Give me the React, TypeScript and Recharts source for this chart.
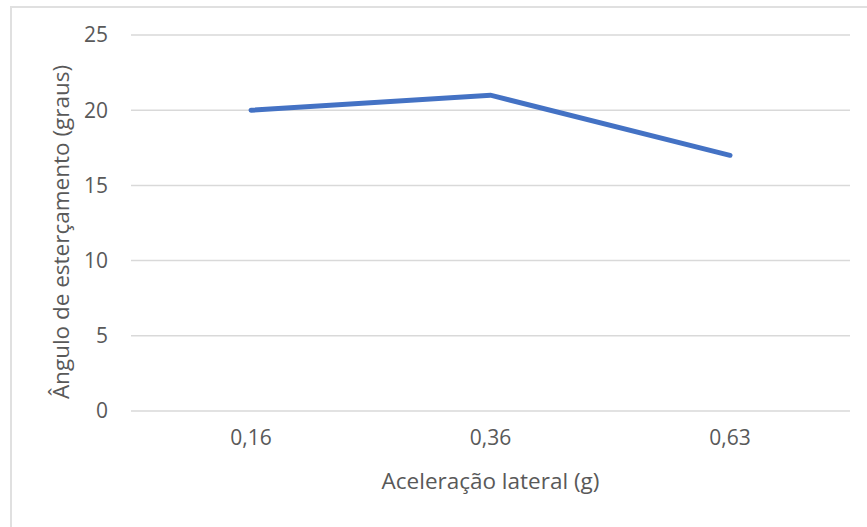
import { CartesianGrid, Label, Line, LineChart, XAxis, YAxis } from 'recharts'

const categories = ['0,16', '0,36', '0,63']
const steerAngle = [20, 21, 17]
const yTicks = [0, 5, 10, 15, 20, 25]

const data = categories.map((c, i) => ({ accel: c, angle: steerAngle[i] }))

const FONT = '"Open Sans", "Noto Sans", sans-serif'
const TEXT = '#595959'
const SIZE = 21

export default function App() {
  return (
    <div
      style={{
        position: 'fixed',
        top: 0,
        left: 0,
        width: 867,
        height: 527,
        overflow: 'hidden',
        background: '#fff',
        fontFamily: FONT,
      }}
    >
      <div
        style={{
          position: 'absolute',
          left: 10,
          top: 6,
          width: 900,
          height: 600,
          border: '2px solid #e0e0e0',
        }}
      />
      <div style={{ position: 'absolute', left: 0, top: 0 }}>
        <LineChart
          width={867}
          height={527}
          data={data}
          margin={{ top: 35, right: 17, bottom: 0, left: 0 }}
        >
          <CartesianGrid horizontal vertical={false} stroke="#d9d9d9" strokeWidth={1.5} />
          <XAxis
            dataKey="accel"
            height={116}
            padding={{ left: 120, right: 120 }}
            axisLine={false}
            tickLine={false}
            tickSize={0}
            tickMargin={19}
            tick={{ fill: TEXT, fontSize: SIZE, fontFamily: FONT }}
          >
            <Label
              value="Aceleração lateral (g)"
              position="insideBottom"
              offset={38}
              style={{ fill: TEXT, fontSize: 22.5, fontFamily: FONT }}
            />
          </XAxis>
          <YAxis
            width={131}
            domain={[0, 25]}
            ticks={yTicks}
            axisLine={false}
            tickLine={false}
            tickSize={0}
            tickMargin={23}
            tick={{ fill: TEXT, fontSize: SIZE, fontFamily: FONT }}
          >
            <Label
              value="Ângulo de esterçamento (graus)"
              angle={-90}
              position="center"
              dx={-4}
              dy={9}
              style={{ fill: TEXT, fontSize: 22.5, fontFamily: FONT, textAnchor: 'middle' }}
            />
          </YAxis>
          <Line
            type="linear"
            dataKey="angle"
            stroke="#4472C4"
            strokeWidth={5}
            strokeLinecap="round"
            dot={false}
            activeDot={false}
            isAnimationActive={false}
          />
        </LineChart>
      </div>
    </div>
  )
}
